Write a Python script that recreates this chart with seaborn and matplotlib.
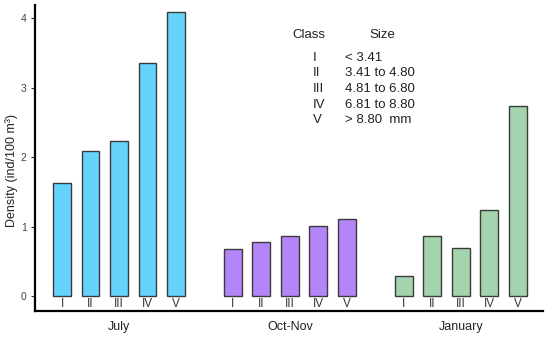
import matplotlib
matplotlib.use("Agg")
import matplotlib.pyplot as plt
import numpy as np
import pandas as pd
import seaborn as sns

# data
periods = ["July", "Oct-Nov", "January"]
classes = ["I", "II", "III", "IV", "V"]
july = [1.63, 2.09, 2.23, 3.35, 4.09]
octnov = [0.68, 0.78, 0.86, 1.01, 1.11]
january = [0.29, 0.86, 0.69, 1.24, 2.73]
size_ranges = ["< 3.41", "3.41 to 4.80", "4.81 to 6.80", "6.81 to 8.80", "> 8.80  mm"]
colors = {"July": "#66d3fc", "Oct-Nov": "#b485f8", "January": "#a3d4ae"}

# each group gets 5 bar slots plus one empty slot as a gap
rows = []
for g, (period, vals) in enumerate(zip(periods, [july, octnov, january])):
    for i, (cls, v) in enumerate(zip(classes, vals)):
        rows.append({"pos": g * 6 + i, "period": period, "cls": cls, "density": v})
df = pd.DataFrame(rows)

sns.set_style("ticks")
plt.rcParams["font.family"] = ["Liberation Sans", "DejaVu Sans"]

fig = plt.figure(figsize=(5.5, 3.39), dpi=100)
ax = fig.add_axes([0.0636, 0.0826, 0.9234, 0.9024])

sns.barplot(data=df, x="pos", y="density", hue="period", palette=colors,
            native_scale=True, dodge=False, width=0.63, saturation=1,
            edgecolor="#3a3a3a", linewidth=1.0, legend=False, ax=ax)

ax.set_xlim(-0.95, 16.88)
ax.set_ylim(-0.216, 4.19)

# class numerals just under each bar
for _, r in df.iterrows():
    ax.text(r["pos"], -0.03, r["cls"], ha="center", va="top", fontsize=8.5, color="#333333")

# period names below the axis line
ax.set_xticks([2, 8, 14])
ax.set_xticklabels(periods, fontsize=9, color="#222222")
ax.tick_params(axis="x", length=0, pad=7)
ax.set_xlabel("")

ax.set_yticks([0, 1, 2, 3, 4])
ax.set_yticklabels(["0", "1", "2", "3", "4"], fontsize=7.5, color="#444444")
ax.tick_params(axis="y", length=3, width=0.8, pad=3)
ax.set_ylabel("Density (ind/100 m³)", fontsize=9, color="#222222")
ax.yaxis.set_label_coords(-0.033, 0.46)

for side in ["top", "right"]:
    ax.spines[side].set_visible(False)
for side in ["left", "bottom"]:
    ax.spines[side].set_linewidth(1.6)
    ax.spines[side].set_color("black")

# size class key
fig.text(309 / 550, 1 - 35 / 339, "Class", ha="center", va="center", fontsize=9.5, color="#222222")
fig.text(382 / 550, 1 - 35 / 339, "Size", ha="center", va="center", fontsize=9.5, color="#222222")
for k, (cls, rng) in enumerate(zip(classes, size_ranges)):
    y = 1 - (58 + k * 15.5) / 339
    fig.text(313 / 550, y, cls, ha="left", va="center", fontsize=9.5, color="#222222")
    fig.text(345 / 550, y, rng, ha="left", va="center", fontsize=9.5, color="#222222")

fig.savefig("out.png", dpi=100)
